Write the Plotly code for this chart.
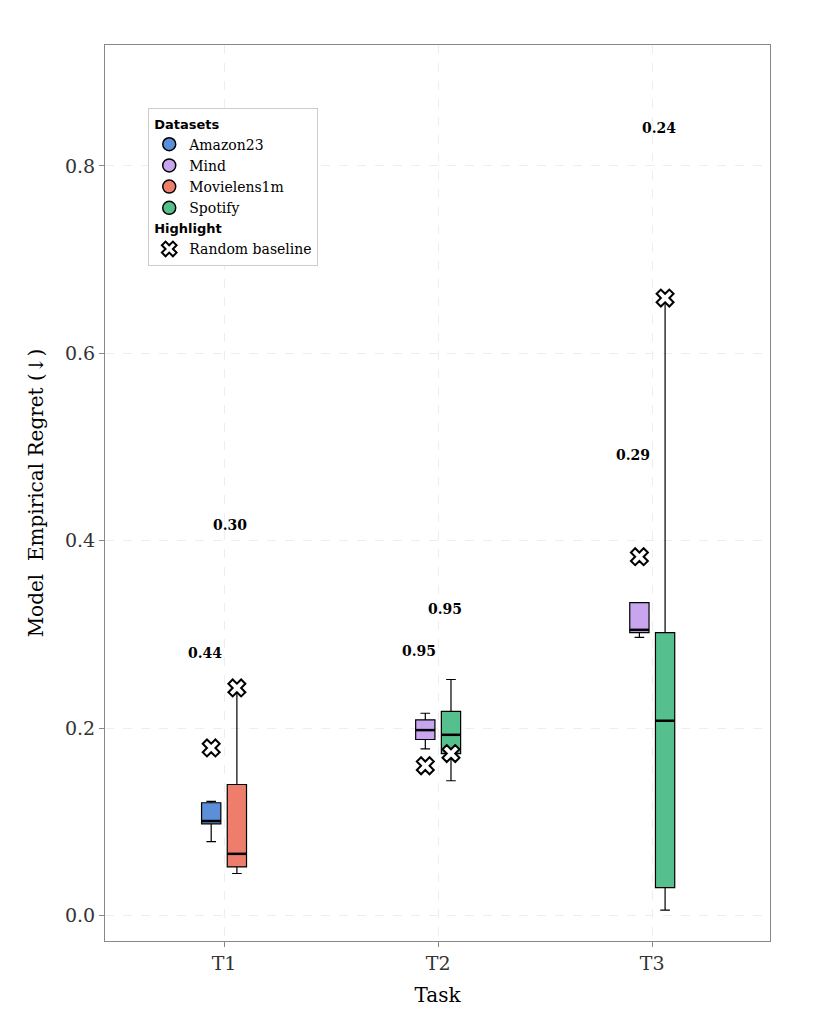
import plotly.graph_objects as go

tasks = ["T1", "T2", "T3"]
datasets = ["Amazon23", "Mind", "Movielens1m", "Spotify"]
colors = {"Amazon23": "#5b8fd9", "Mind": "#c7a6ef", "Movielens1m": "#ee7d6c", "Spotify": "#55c08e"}

# one entry per box: task index, offset, dataset, whiskers/quartiles, random baseline, label
box_task = [0, 0, 1, 1, 2, 2]
box_offset = [-0.06, 0.06, -0.06, 0.06, -0.06, 0.06]
box_dataset = ["Amazon23", "Movielens1m", "Mind", "Spotify", "Mind", "Spotify"]
box_low = [0.079, 0.045, 0.178, 0.144, 0.297, 0.006]
box_q1 = [0.098, 0.052, 0.188, 0.173, 0.302, 0.030]
box_med = [0.101, 0.066, 0.198, 0.193, 0.305, 0.208]
box_q3 = [0.1205, 0.140, 0.209, 0.218, 0.334, 0.302]
box_high = [0.122, 0.243, 0.216, 0.252, 0.334, 0.659]
baseline = [0.179, 0.243, 0.160, 0.173, 0.383, 0.659]
label_txt = ["0.44", "0.30", "0.95", "0.95", "0.29", "0.24"]
label_y = [0.28, 0.417, 0.282, 0.327, 0.492, 0.84]

font = "DejaVu Serif"
fig = go.Figure()

for i in range(len(box_task)):
    xpos = box_task[i] + box_offset[i]
    fig.add_trace(go.Box(
        x=[xpos], q1=[box_q1[i]], median=[box_med[i]], q3=[box_q3[i]],
        lowerfence=[box_low[i]], upperfence=[box_high[i]],
        width=0.09, fillcolor=colors[box_dataset[i]],
        line=dict(color="black", width=1.2), whiskerwidth=0.5,
        showlegend=False, hoverinfo="skip",
    ))
    # thicker median line
    fig.add_trace(go.Scatter(
        x=[xpos - 0.045, xpos + 0.045], y=[box_med[i], box_med[i]], mode="lines",
        line=dict(color="black", width=2.5), showlegend=False, hoverinfo="skip",
    ))
    fig.add_trace(go.Scatter(
        x=[xpos], y=[baseline[i]], mode="markers",
        marker=dict(symbol="x", size=15, color="white", line=dict(color="black", width=2)),
        showlegend=False, hoverinfo="skip",
    ))
    fig.add_annotation(x=xpos - 0.03, y=label_y[i], text="<b>" + label_txt[i] + "</b>",
                       showarrow=False, font=dict(family=font, size=14, color="black"))

for j, d in enumerate(datasets):
    fig.add_trace(go.Scatter(
        x=[None], y=[None], mode="markers", name=d, legendgroup="a",
        legendgrouptitle=dict(text="<b>Datasets</b>", font=dict(family="DejaVu Sans", size=13)) if j == 0 else None,
        marker=dict(size=13, color=colors[d], line=dict(color="black", width=1.5)),
    ))
fig.add_trace(go.Scatter(
    x=[None], y=[None], mode="markers", name="Random baseline", legendgroup="b",
    legendgrouptitle=dict(text="<b>Highlight</b>", font=dict(family="DejaVu Sans", size=13)),
    marker=dict(symbol="x", size=13, color="white", line=dict(color="black", width=2)),
))

axis_common = dict(showline=True, mirror=True, linecolor="#888888", linewidth=1.2,
                   showgrid=True, gridcolor="#eeeeee", griddash="dash", zeroline=False,
                   ticks="outside", tickcolor="#888888", tickfont=dict(family=font, size=19, color="#333"))
fig.update_layout(
    width=836, height=1030, plot_bgcolor="white", paper_bgcolor="white",
    margin=dict(l=97, r=74, t=37, b=97),
    font=dict(family=font, color="black"),
    xaxis=dict(tickvals=[0, 1, 2], ticktext=tasks, range=[-0.556, 2.55],
               title=dict(text="Task", font=dict(family=font, size=20)), **axis_common),
    yaxis=dict(tickvals=[0, 0.2, 0.4, 0.6, 0.8], ticktext=["0.0", "0.2", "0.4", "0.6", "0.8"],
               range=[-0.027, 0.929],
               title=dict(text="Model  Empirical Regret (↓)", font=dict(family=font, size=20)), **axis_common),
    legend=dict(x=0.065, y=0.93, xanchor="left", yanchor="top", bgcolor="white",
                bordercolor="#cccccc", borderwidth=1, tracegroupgap=0,
                font=dict(family=font, size=14)),
)

fig.write_html("out.html")
